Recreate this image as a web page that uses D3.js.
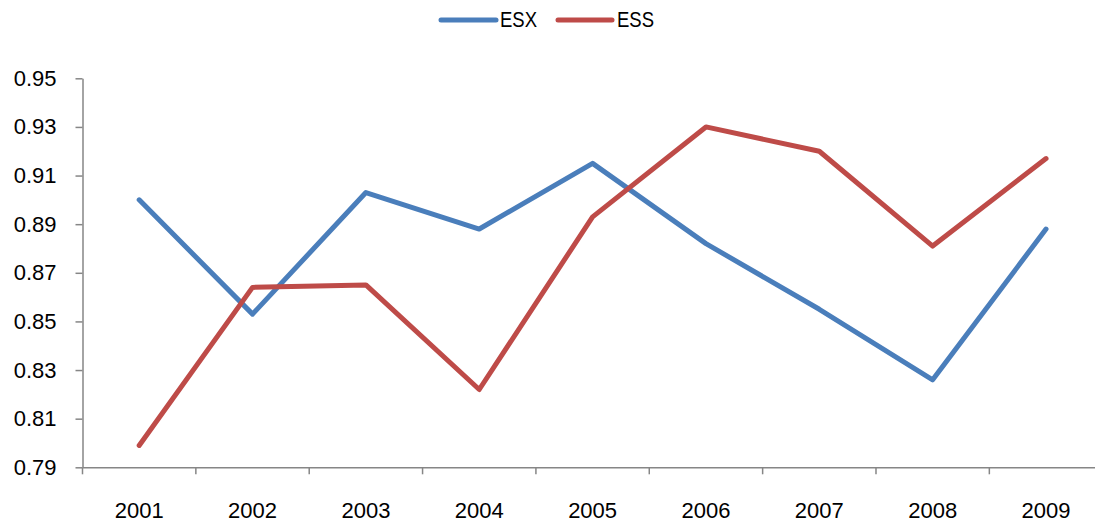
<!DOCTYPE html>
<html>
<head>
<meta charset="utf-8">
<script src="https://cdn.jsdelivr.net/npm/d3@7"></script>
<style>
  html, body { margin: 0; padding: 0; background: #fff; }
  svg { display: block; }
  text { font-family: "Liberation Sans", Arial, sans-serif; fill: #000; }
</style>
</head>
<body>
<svg id="chart" width="1095" height="523"></svg>
<script>
// Yearly values for the two series
const years = ["2001", "2002", "2003", "2004", "2005", "2006", "2007", "2008", "2009"];
const esx = [0.900, 0.853, 0.903, 0.888, 0.915, 0.882, 0.855, 0.826, 0.888];
const ess = [0.799, 0.864, 0.865, 0.822, 0.893, 0.930, 0.920, 0.881, 0.917];
const yTicks = [0.79, 0.81, 0.83, 0.85, 0.87, 0.89, 0.91, 0.93, 0.95];

const seriesNames = ["ESX", "ESS"];
const seriesColors = ["#4a7ebb", "#be4b48"];
const seriesValues = [esx, ess];

const svg = d3.select("#chart");

const plotLeft = 82.5, plotRight = 1102.7, plotTop = 78.3, plotBottom = 467.3;
const fontSize = 22;

const x = d3.scaleBand().domain(years).range([plotLeft, plotRight]).padding(0);
const y = d3.scaleLinear().domain([0.79, 0.95]).range([plotBottom, plotTop]);

const axisColor = "#868686";

// Y axis
const yAxis = svg.append("g")
  .attr("transform", `translate(${plotLeft},0)`)
  .call(d3.axisLeft(y).tickValues(yTicks).tickSize(7).tickSizeOuter(0)
    .tickPadding(19).tickFormat(d3.format(".2f")));
yAxis.select(".domain").attr("stroke", axisColor).attr("stroke-width", 1.5);
yAxis.selectAll(".tick line").attr("stroke", axisColor).attr("stroke-width", 1.5);
yAxis.selectAll(".tick text").attr("font-size", fontSize).attr("fill", "#000")
  .attr("font-family", "Liberation Sans, Arial, sans-serif");

// X axis: labels centred in each band, tick marks on band edges
const xAxis = svg.append("g")
  .attr("transform", `translate(0,${plotBottom})`)
  .call(d3.axisBottom(x).tickSize(0).tickSizeOuter(0).tickPadding(35));
xAxis.select(".domain").attr("stroke", axisColor).attr("stroke-width", 1.5);
xAxis.selectAll(".tick text").attr("font-size", fontSize).attr("fill", "#000")
  .attr("font-family", "Liberation Sans, Arial, sans-serif");

const edges = years.map(d => x(d));
xAxis.selectAll("line.edge")
  .data(edges)
  .join("line")
  .attr("class", "edge")
  .attr("x1", d => d).attr("x2", d => d)
  .attr("y1", 0).attr("y2", 7)
  .attr("stroke", axisColor).attr("stroke-width", 1.5);

// Series lines
const line = d3.line()
  .x((d, i) => x(years[i]) + x.bandwidth() / 2)
  .y(d => y(d));

svg.selectAll("path.series")
  .data(seriesValues)
  .join("path")
  .attr("class", "series")
  .attr("d", line)
  .attr("fill", "none")
  .attr("stroke", (d, i) => seriesColors[i])
  .attr("stroke-width", 5)
  .attr("stroke-linecap", "round")
  .attr("stroke-linejoin", "round");

// Legend
const legendItems = [
  { name: seriesNames[0], color: seriesColors[0], x0: 441, x1: 496, tx: 500 },
  { name: seriesNames[1], color: seriesColors[1], x0: 558, x1: 612, tx: 617 }
];
const legend = svg.append("g");
legend.selectAll("line")
  .data(legendItems)
  .join("line")
  .attr("x1", d => d.x0).attr("x2", d => d.x1)
  .attr("y1", 20).attr("y2", 20)
  .attr("stroke", d => d.color)
  .attr("stroke-width", 5)
  .attr("stroke-linecap", "round");
legend.selectAll("text")
  .data(legendItems)
  .join("text")
  .attr("x", d => d.tx)
  .attr("y", 26.7)
  .attr("font-size", fontSize)
  .attr("textLength", 37)
  .attr("lengthAdjust", "spacingAndGlyphs")
  .text(d => d.name);
</script>
</body>
</html>
